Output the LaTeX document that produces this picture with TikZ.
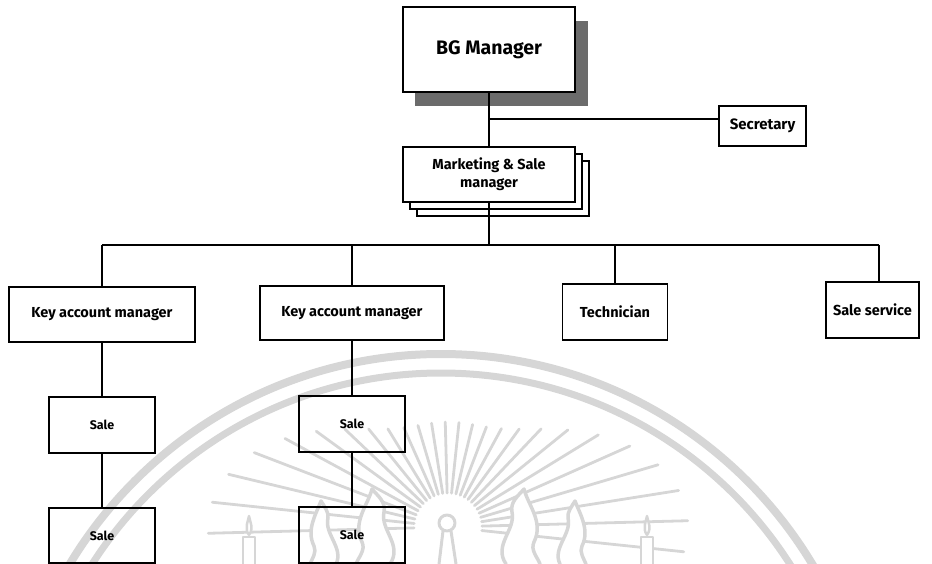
\documentclass[tikz,border=0pt]{standalone}
\usepackage{fontspec}
\setmainfont{Fira Sans}
\begin{document}
\begin{tikzpicture}[x=1pt,y=-1pt,
  box/.style={draw=black,line width=1.4pt,fill=white,inner sep=0pt,align=center,font=\bfseries},
  link/.style={draw=black,line width=1.5pt},
  seal/.style={draw=black!16,line cap=round,line join=round}]
\useasboundingbox (0,0) rectangle (932,564);

% faint seal in the background
\begin{scope}
  \clip (0,0) rectangle (932,564);
  \draw[seal,line width=8pt] (441,787) circle[radius=433];
  \draw[seal,line width=7pt] (441,787) circle[radius=414];
  \foreach \a in {-6,1.5,...,186}{
    \pgfmathsetmacro{\c}{cos(\a)}
    \pgfmathsetmacro{\r}{105+135*\c*\c*\c*\c}
    \draw[seal,line width=2.8pt] (448,527) ++(-\a:34) -- ++(-\a:\r-34);
  }
  % sun ring and stem
  \draw[seal,line width=3pt,fill=white] (447,523) circle[radius=8];
  \draw[seal,line width=3pt] (443,531) -- (439,564) (451,531) -- (456,564);
  % flames, right and left
  \foreach \s in {1,-1}{
    \begin{scope}[shift={(448,0)},xscale=\s]
      \draw[seal,line width=3.5pt,fill=white]
        (58,564) .. controls (45,545) and (68,530) .. (64,512)
        .. controls (62,502) and (70,496) .. (76,489)
        .. controls (80,505) and (96,522) .. (86,542)
        .. controls (82,550) and (90,558) .. (92,564);
      \draw[seal,line width=3.5pt,fill=white]
        (112,564) .. controls (104,548) and (124,534) .. (120,518)
        .. controls (119,512) and (124,506) .. (127,501)
        .. controls (132,514) and (142,530) .. (134,546)
        .. controls (131,552) and (136,559) .. (138,564);
      % candle
      \draw[seal,line width=2.5pt,fill=white] (193,564) -- (193,537) -- (205,537) -- (205,564);
      \draw[seal,line width=2.5pt,fill=white] (199,535) .. controls (194,528) and (198,522) .. (199,516)
        .. controls (200,522) and (204,528) .. (199,535);
    \end{scope}
  }
\end{scope}

% top of the chart
\fill[black!58] (415,21) rectangle (588,106);
\node[box,minimum width=172pt,minimum height=85pt,font=\bfseries\fontsize{19.5}{23}\selectfont] (bg) at (489,49.5) {BG Manager};
\node[box,minimum width=87pt,minimum height=40pt,font=\bfseries\fontsize{15}{18}\selectfont] (sec) at (762.5,126) {Secretary};

% stacked manager box
\node[box,minimum width=172pt,minimum height=55pt] at (503,188.5) {};
\node[box,minimum width=172pt,minimum height=55pt] at (496,181.5) {};
\node[box,minimum width=172pt,minimum height=55pt,font=\bfseries\fontsize{14.5}{18}\selectfont] (mk) at (489,174.5) {Marketing \& Sale\\manager};

% second level
\tikzset{midbox/.style={box,minimum height=55pt,font=\bfseries\fontsize{14.5}{17}\selectfont}}
\node[midbox,minimum width=186pt] (kam1) at (102,314.5) {Key account manager};
\node[midbox,minimum width=184pt,minimum height=54pt] (kam2) at (352,313) {Key account manager};
\node[midbox,minimum width=105pt,minimum height=56pt] (tech) at (615,312) {Technician};
\node[midbox,minimum width=93pt,minimum height=56pt] (ss) at (872.5,310) {Sale service};

% sales staff
\tikzset{salebox/.style={box,fill=none,minimum width=106pt,minimum height=56pt,font=\bfseries\fontsize{12.5}{14}\selectfont}}
\node[salebox] (s1a) at (102,425) {Sale};
\node[salebox,minimum height=55pt] (s1b) at (102,535.5) {Sale};
\node[salebox] (s2a) at (352,424) {Sale};
\node[salebox] (s2b) at (352,535) {Sale};

% connectors
\coordinate (jsec) at (489,119);
\coordinate (busL) at (102,245);
\coordinate (busR) at (879,245);
\draw[link] (bg.south) -- (mk.north);
\draw[link] (jsec) -- (jsec -| sec.west);
\draw[link] (mk.south) -- (mk.south |- busL);
\draw[link] (busL) -- (busR);
\draw[link] (busL) -- (kam1.north);
\draw[link] (kam2.north |- busL) -- (kam2.north);
\draw[link] (tech.north |- busL) -- (tech.north);
\draw[link] (busR) -- (busR |- ss.north);
\draw[link] (kam1.south) -- (s1a.north);
\draw[link] (s1a.south) -- (s1b.north);
\draw[link] (kam2.south) -- (s2a.north);
\draw[link] (s2a.south) -- (s2b.north);
\end{tikzpicture}
\end{document}
